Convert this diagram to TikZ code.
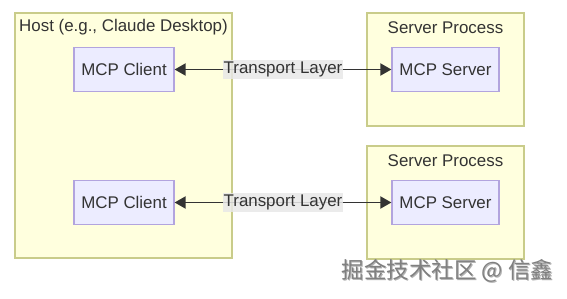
\documentclass[tikz,border=0pt]{standalone}
\usepackage{fontspec}
\setmainfont{Liberation Sans}
\newfontfamily\cjkfont{Noto Sans CJK SC}
\usetikzlibrary{arrows.meta}
\definecolor{clfill}{HTML}{FFFFDE}
\definecolor{cldraw}{HTML}{C9CC8A}
\definecolor{ndfill}{HTML}{ECECFF}
\definecolor{nddraw}{HTML}{B2A4DE}
\definecolor{txt}{HTML}{333333}
\definecolor{lblbg}{HTML}{E8E8E8}
\tikzset{
  cluster/.style={draw=cldraw, fill=clfill, line width=1.2pt},
  mcpnode/.style={draw=nddraw, fill=ndfill, line width=1.2pt, minimum width=100pt, minimum height=44pt, inner sep=0pt, text=txt, font=\fontsize{16.9}{19}\selectfont},
  clustertitle/.style={text=txt, font=\fontsize{16.9}{19}\selectfont, inner sep=0pt},
  conn/.style={draw=txt, line width=1.9pt, {Triangle[length=11pt,width=12pt]}-{Triangle[length=11pt,width=12pt]}},
  lbl/.style={fill=lblbg, fill opacity=0.85, text opacity=1, text=txt, font=\fontsize{16.9}{19}\selectfont, inner xsep=1pt, inner ysep=2pt, minimum height=19pt},
}
\begin{document}
\begin{tikzpicture}[x=1pt,y=-1pt]
\fill[white] (0,0) rectangle (567,299);
\useasboundingbox (0,0) rectangle (567,299);
% clusters
\draw[cluster] (15,13) rectangle (232,258);
\node[clustertitle] (hosttitle) at (123.5,27.5) {Host (e.g., Claude Desktop)};
\draw[cluster] (367,13) rectangle (524,126);
\node[clustertitle] (sp1title) at (445.5,27.5) {Server Process};
\draw[cluster] (367,146) rectangle (524,259);
\node[clustertitle] (sp2title) at (445.5,160.5) {Server Process};
% nodes
\node[mcpnode] (c1) at (124,69.5) {MCP Client};
\node[mcpnode] (c2) at (124,202.5) {MCP Client};
\node[mcpnode, minimum width=107pt] (s1) at (445.5,69.5) {MCP Server};
\node[mcpnode, minimum width=107pt] (s2) at (445.5,202.5) {MCP Server};
% connectors
\draw[conn] (c1) -- (s1) node[lbl, midway] (l1) {Transport Layer};
\draw[conn] (c2) -- (s2) node[lbl, midway] (l2) {Transport Layer};
% watermark
\node[text=black!30, font=\cjkfont\fontsize{22.5}{26}\selectfont, inner sep=0pt] (wm0) at (448.5,272.3) {掘金技术社区 @ 信鑫};
\node[text=black!50, font=\cjkfont\fontsize{22.5}{26}\selectfont, inner sep=0pt] (wm) at (447.5,271.3) {掘金技术社区 @ 信鑫};
\end{tikzpicture}
\end{document}
